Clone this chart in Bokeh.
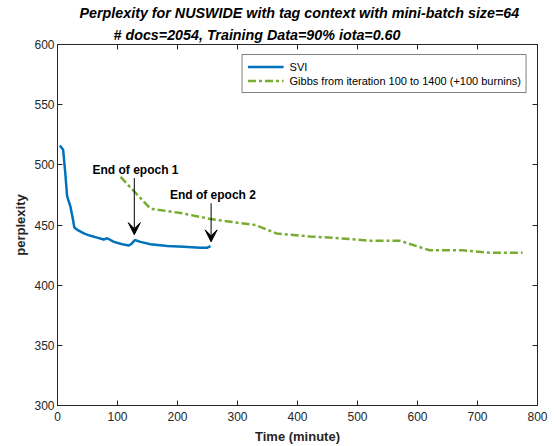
from bokeh.plotting import figure
from bokeh.models import Title, LinearAxis, Arrow, VeeHead, Legend, LegendItem, Range1d, FixedTicker, CustomJSTickFormatter
from bokeh.core.properties import value
from bokeh.embed import file_html
from bokeh.resources import INLINE

svi_t = [3.9, 9.4, 13, 16, 21.7, 26, 28, 33, 44, 55, 66, 77, 83, 94, 108, 119, 124, 129, 138, 155, 183, 210, 238, 249, 255]
svi_p = [516, 512.5, 493, 474, 465, 454, 448, 446, 443, 441, 439.5, 438, 439, 436, 434, 433, 434.7, 437.5, 436, 434, 432.5, 432, 431, 431, 432.5]

gibbs_t = [105, 155, 205, 255, 305, 330, 365, 420, 470, 520, 570, 620, 675, 720, 775]
gibbs_p = [490, 463.5, 460, 455, 451.5, 450, 443, 440.5, 439, 437, 437, 429, 429, 427, 427]

epoch_labels = ["End of epoch 1", "End of epoch 2"]
epoch_label_t = [130, 259]
epoch_label_p = [496, 475]
arrow_t = [128, 256]
arrow_top = [489, 468]
arrow_tip = [442, 436]

x_ticks = [0, 100, 200, 300, 400, 500, 600, 700, 800]
y_ticks = [300, 350, 400, 450, 500, 550, 600]

title1 = "Perplexity for NUSWIDE with tag context with mini-batch size=64"
title2 = "# docs=2054, Training Data=90% iota=0.60"

FONT = "Liberation Sans"
AX = "#262626"

p = figure(width=550, height=446, x_range=Range1d(0, 800), y_range=Range1d(300, 600),
           output_backend="svg", toolbar_location=None,
           min_border_left=57, min_border_right=13, min_border_bottom=41, min_border_top=0)
p.xgrid.visible = False
p.ygrid.visible = False
p.outline_line_color = AX
p.outline_line_width = 1

for ax in (p.xaxis[0], p.yaxis[0]):
    ax.major_tick_in = 5
    ax.major_tick_out = 0
    ax.minor_tick_in = 0
    ax.minor_tick_out = 0
    ax.axis_line_color = AX
    ax.major_tick_line_color = AX
    ax.major_label_text_font = FONT
    ax.major_label_text_font_size = "12px"
    ax.major_label_text_color = AX
    ax.axis_label_text_font = FONT
    ax.axis_label_text_font_style = "bold"
    ax.axis_label_text_font_size = "13px"
    ax.axis_label_text_color = AX
    ax.major_label_standoff = 3
    ax.axis_label_standoff = 3

p.xaxis[0].major_label_standoff = 6
p.xaxis[0].axis_label_standoff = 5
p.xaxis[0].ticker = FixedTicker(ticks=x_ticks)
p.yaxis[0].ticker = FixedTicker(ticks=y_ticks)
p.xaxis[0].axis_label = "Time (minute)"
p.yaxis[0].axis_label = "perplexity"

blank = CustomJSTickFormatter(code="return ''")
top_ax = LinearAxis(ticker=FixedTicker(ticks=x_ticks), formatter=blank)
right_ax = LinearAxis(ticker=FixedTicker(ticks=y_ticks), formatter=blank)
for ax in (top_ax, right_ax):
    ax.major_tick_in = 5
    ax.major_tick_out = 0
    ax.minor_tick_in = 0
    ax.minor_tick_out = 0
    ax.major_label_standoff = 0
    ax.major_label_text_font_size = "1px"
    ax.axis_line_color = AX
    ax.major_tick_line_color = AX
p.add_layout(top_ax, "above")
p.add_layout(right_ax, "right")

t2 = Title(text=title2, align="left", offset=56, text_font=FONT, text_font_size="14.3px",
           text_font_style="bold italic", text_color="black", standoff=4)
t1 = Title(text=title1, align="left", offset=22, text_font=FONT, text_font_size="14.3px",
           text_font_style="bold italic", text_color="black", standoff=4)
p.add_layout(t2, "above")
p.add_layout(t1, "above")

r_svi = p.line(svi_t, svi_p, line_color="#0072BD", line_width=2.5)
r_gibbs = p.line(gibbs_t, gibbs_p, line_color="#77AC30", line_width=2.5, line_dash="8 3 3 3")

for i in range(2):
    p.add_layout(Arrow(end=VeeHead(size=12, fill_color="black", line_color="black"),
                       x_start=arrow_t[i], y_start=arrow_top[i], x_end=arrow_t[i], y_end=arrow_tip[i],
                       line_color="black", line_width=1))

p.text(x=epoch_label_t, y=epoch_label_p, text=epoch_labels, text_font=value(FONT),
       text_font_style="bold", text_font_size="12px", text_align="center",
       text_baseline="middle", text_color="black")

legend = Legend(items=[LegendItem(label="SVI", renderers=[r_svi]),
                       LegendItem(label="Gibbs from iteration 100 to 1400 (+100 burnins)", renderers=[r_gibbs])],
                location="top_right", margin=10, padding=5, spacing=1,
                label_text_font=FONT, label_text_font_size="11px", label_text_color="black",
                label_height=13, glyph_width=36, glyph_height=13, label_standoff=6,
                border_line_color="black", border_line_width=1, background_fill_alpha=1)
p.add_layout(legend)

open("out.html", "w").write(file_html(p, INLINE))
